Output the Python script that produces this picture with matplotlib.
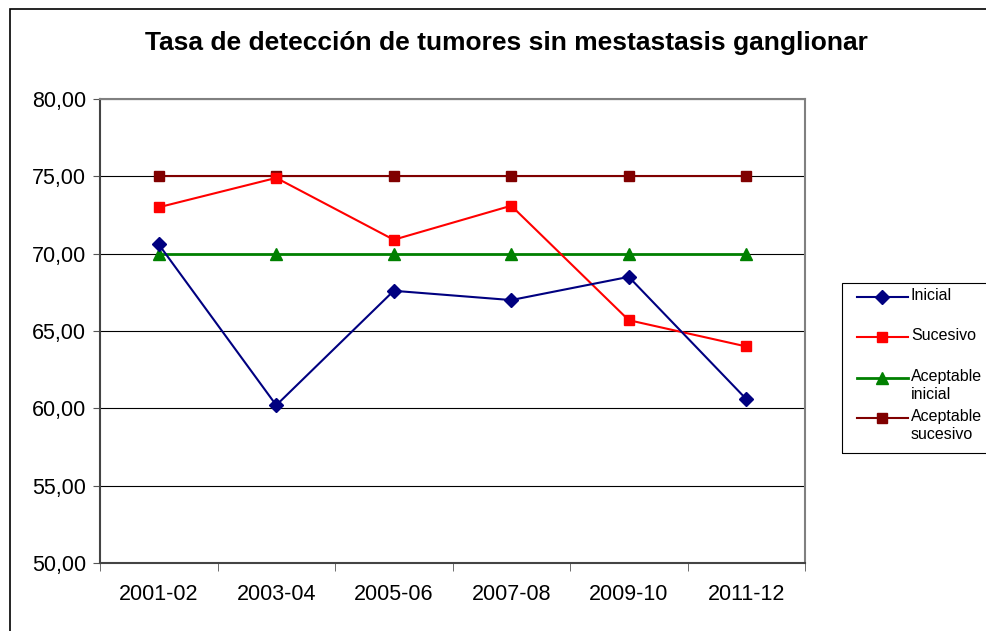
import matplotlib.pyplot as plt
from matplotlib.lines import Line2D
from matplotlib.patches import Rectangle
from matplotlib.ticker import FixedLocator, FuncFormatter

plt.rcParams['font.family'] = ['Liberation Sans', 'DejaVu Sans']

periodos = ['2001-02', '2003-04', '2005-06', '2007-08', '2009-10', '2011-12']
inicial = [70.6, 60.2, 67.6, 67.0, 68.5, 60.6]
sucesivo = [73.0, 74.9, 70.9, 73.1, 65.7, 64.0]
aceptable_inicial = [70, 70, 70, 70, 70, 70]
aceptable_sucesivo = [75, 75, 75, 75, 75, 75]

W, H = 986, 631
fig = plt.figure(figsize=(W / 100, H / 100), dpi=100)
ax = fig.add_axes([100 / W, 1 - 563 / H, 705 / W, 464 / H])

# outer chart border
fig.patches.append(Rectangle((10 / W, -0.01), 1.0, 1 - 9 / H + 0.01,
                             transform=fig.transFigure, fill=False,
                             edgecolor='black', linewidth=1.2))

series = [
    (inicial, 'Inicial', '#000080', 'D', 7, 1.5),
    (sucesivo, 'Sucesivo', '#ff0000', 's', 7, 1.5),
    (aceptable_inicial, 'Aceptable\ninicial', '#008000', '^', 9, 2),
    (aceptable_sucesivo, 'Aceptable\nsucesivo', '#800000', 's', 7, 1.5),
]

x = range(len(periodos))
zs = [5, 4, 3, 3]
for (vals, lab, col, mk, ms, lw), z in zip(series, zs):
    ax.plot(x, vals, color=col, marker=mk, markersize=ms, linewidth=lw, zorder=z)

ax.set_xlim(-0.5, len(periodos) - 0.5)
ax.set_ylim(50, 80)
ax.set_yticks(range(50, 81, 5))
ax.yaxis.set_major_formatter(FuncFormatter(lambda v, p: f'{v:.2f}'.replace('.', ',')))
ax.grid(axis='y', color='black', linewidth=0.8)
ax.set_axisbelow(True)

ax.set_xticks(list(x))
ax.set_xticklabels(periodos)
ax.xaxis.set_minor_locator(FixedLocator([i - 0.5 for i in range(len(periodos) + 1)]))
ax.tick_params(axis='x', which='major', length=0, pad=15, labelsize=15.5)
ax.tick_params(axis='x', which='minor', length=6, direction='out', color='#555555')
ax.tick_params(axis='y', length=5, direction='out', color='#555555', labelsize=15.5, pad=5)

for side in ['left', 'bottom']:
    ax.spines[side].set_color('#444444')
    ax.spines[side].set_linewidth(1.5)
for side in ['top', 'right']:
    ax.spines[side].set_color('#808080')
    ax.spines[side].set_linewidth(1.5)

fig.text(506 / W, 1 - 43 / H, 'Tasa de detección de tumores sin mestastasis ganglionar',
         ha='center', va='center', fontsize=19, fontweight='bold')

# legend drawn by hand to follow the original spacing
fig.patches.append(Rectangle((842 / W, 1 - 453 / H), 0.2, 170 / H,
                             transform=fig.transFigure, fill=False,
                             edgecolor='black', linewidth=0.8))
legend_y = [297, 337, 378, 418]
for (vals, lab, col, mk, ms, lw), yy in zip(series, legend_y):
    fy = 1 - yy / H
    fig.add_artist(Line2D([857 / W, 908 / W], [fy, fy], color=col, linewidth=lw,
                          transform=fig.transFigure))
    fig.add_artist(Line2D([882 / W], [fy], color=col, marker=mk, markersize=ms,
                          transform=fig.transFigure))
    fig.text(911 / W, fy + 9 / H, lab, ha='left', va='top', fontsize=11.5,
             linespacing=1.25)

fig.savefig('out.png', dpi=100)
